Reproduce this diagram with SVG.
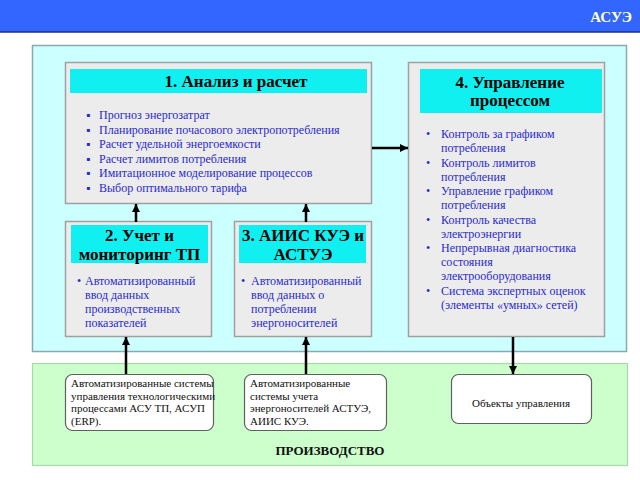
<svg xmlns="http://www.w3.org/2000/svg" width="640" height="480" viewBox="0 0 640 480">
<defs>
<marker id="ah" viewBox="0 0 10 10" refX="10" refY="5" markerWidth="8" markerHeight="8" markerUnits="userSpaceOnUse" orient="auto">
<path d="M0,0 L10,5 L0,10 z" fill="#000"/>
</marker>
</defs>
<style>
.box{fill:#ececec;stroke:#a0a0a0;stroke-width:1.5}
.hdr{fill:#11f0f0}
.ttl{font-family:"Liberation Serif",serif;font-weight:bold;font-size:17px;fill:#000;text-anchor:middle}
.blt{font-family:"Liberation Serif",serif;font-size:12px;fill:#2a2acc}
.bot{fill:#fff;stroke:#606060;stroke-width:1.2}
.bt{font-family:"Liberation Serif",serif;font-size:11px;fill:#111}
.conn{stroke:#000;stroke-width:2.5;fill:none;marker-end:url(#ah)}
</style>
<rect width="640" height="480" fill="#fff"/>
<g id="header">
<rect x="0" y="0" width="640" height="32" fill="#3366ff"/>
<line x1="0" y1="32" x2="640" y2="32" stroke="#1a2f8a" stroke-width="1.5"/>
<text x="632" y="22" text-anchor="end" font-family="Liberation Serif, serif" font-weight="bold" font-size="15" fill="#ffffcc">АСУЭ</text>
</g>
<g id="panel-top">
<rect x="32.5" y="45.5" width="594" height="306" fill="#ccffff" stroke="#8aa8b0" stroke-width="1.5"/>
</g>
<g id="panel-bottom">
<rect x="32.5" y="363.5" width="595" height="102" fill="#ccffcc" stroke="#aad8aa" stroke-width="1.2"/>
<text x="330" y="455" text-anchor="middle" font-family="Liberation Serif, serif" font-weight="bold" font-size="13" fill="#111">ПРОИЗВОДСТВО</text>
</g>
<g id="node1">
<rect class="box" x="65.5" y="62.5" width="306" height="141"/>
<rect class="hdr" x="70" y="69" width="297" height="24"/>
<text class="ttl" x="236" y="87">1. Анализ и расчет</text>
<g class="blt">
<text x="86" y="119">▪</text><text x="99" y="119">Прогноз энергозатрат</text>
<text x="86" y="133.5">▪</text><text x="99" y="133.5">Планирование почасового электропотребления</text>
<text x="86" y="148">▪</text><text x="99" y="148">Расчет удельной энергоемкости</text>
<text x="86" y="162.5">▪</text><text x="99" y="162.5">Расчет лимитов потребления</text>
<text x="86" y="177">▪</text><text x="99" y="177">Имитационное моделирование процессов</text>
<text x="86" y="191.5">▪</text><text x="99" y="191.5">Выбор оптимального тарифа</text>
</g>
</g>
<g id="node2">
<rect class="box" x="65.5" y="221.5" width="146" height="115"/>
<rect class="hdr" x="71" y="225" width="137" height="38"/>
<text class="ttl" x="139.5" y="241" font-size="16">2. Учет и</text>
<text class="ttl" x="139.5" y="260" font-size="16">мониторинг ТП</text>
<g class="blt">
<text x="77" y="285">•</text>
<text x="85" y="285">Автоматизированный</text>
<text x="85" y="298.5">ввод данных</text>
<text x="85" y="312.5">производственных</text>
<text x="85" y="326.5">показателей</text>
</g>
</g>
<g id="node3">
<rect class="box" x="234.5" y="221.5" width="137" height="115"/>
<rect class="hdr" x="239" y="225" width="127" height="38"/>
<text class="ttl" x="303" y="241" font-size="16">3. АИИС КУЭ и</text>
<text class="ttl" x="303" y="260" font-size="16">АСТУЭ</text>
<g class="blt">
<text x="241" y="285">•</text>
<text x="251" y="285">Автоматизированный</text>
<text x="251" y="298.5">ввод данных о</text>
<text x="251" y="312.5">потреблении</text>
<text x="251" y="326.5">энергоносителей</text>
</g>
</g>
<g id="node4">
<rect class="box" x="408.5" y="62.5" width="196" height="274"/>
<rect class="hdr" x="420" y="69" width="182" height="44"/>
<text class="ttl" x="510" y="88">4. Управление</text>
<text class="ttl" x="510" y="106">процессом</text>
<g class="blt">
<text x="426" y="138">•</text><text x="441" y="138">Контроль за графиком</text>
<text x="441" y="152">потребления</text>
<text x="426" y="166.5">•</text><text x="441" y="166.5">Контроль лимитов</text>
<text x="441" y="180.5">потребления</text>
<text x="426" y="195">•</text><text x="441" y="195">Управление графиком</text>
<text x="441" y="209">потребления</text>
<text x="426" y="223.5">•</text><text x="441" y="223.5">Контроль качества</text>
<text x="441" y="237.5">электроэнергии</text>
<text x="426" y="252">•</text><text x="441" y="252">Непрерывная диагностика</text>
<text x="441" y="266">состояния</text>
<text x="441" y="280">электрооборудования</text>
<text x="426" y="294.5">•</text><text x="441" y="294.5">Система экспертных оценок</text>
<text x="441" y="309">(элементы «умных» сетей)</text>
</g>
</g>
<g id="nodeA">
<rect class="bot" x="65.5" y="374.5" width="148" height="56" rx="7"/>
<g class="bt">
<text x="71" y="387">Автоматизированные системы</text>
<text x="71" y="399.5">управления технологическими</text>
<text x="71" y="412">процессами АСУ ТП, АСУП</text>
<text x="71" y="424.5">(ERP).</text>
</g>
</g>
<g id="nodeB">
<rect class="bot" x="244.5" y="374.5" width="142" height="56" rx="7"/>
<g class="bt">
<text x="250" y="387">Автоматизированные</text>
<text x="250" y="399.5">системы учета</text>
<text x="250" y="412">энергоносителей АСТУЭ,</text>
<text x="250" y="424.5">АИИС КУЭ.</text>
</g>
</g>
<g id="nodeC">
<rect class="bot" x="451.5" y="374.5" width="140" height="49" rx="7"/>
<text class="bt" x="521" y="407" text-anchor="middle">Объекты управления</text>
</g>
<g id="connectors">
<line class="conn" x1="136" y1="222" x2="136" y2="204"/>
<line class="conn" x1="306" y1="222" x2="306" y2="204"/>
<line class="conn" x1="372" y1="148" x2="408" y2="148"/>
<line class="conn" x1="126" y1="374" x2="126" y2="337"/>
<line class="conn" x1="306" y1="374" x2="306" y2="337"/>
<line class="conn" x1="513" y1="337" x2="513" y2="374"/>
</g>
</svg>
